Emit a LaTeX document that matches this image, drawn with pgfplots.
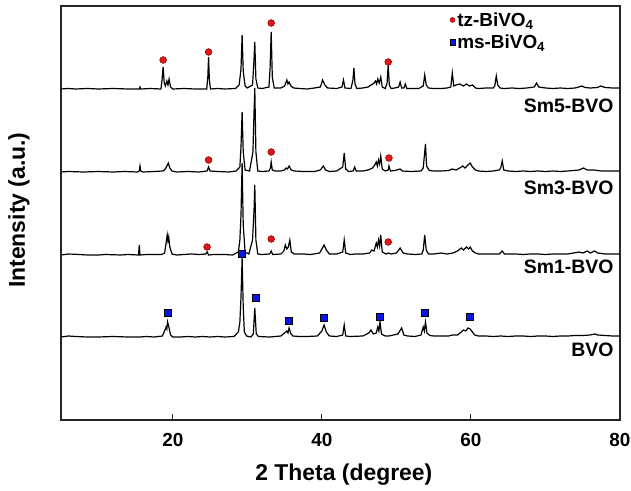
\documentclass[border=0pt]{standalone}
\usepackage{pgfplots}
\usepackage{pgfplotstable}
\pgfplotsset{compat=1.18}
\usepackage{fontspec}
\setmainfont{Liberation Sans}
\definecolor{tzred}{RGB}{230,20,20}
\definecolor{msblue}{RGB}{10,20,230}

\pgfplotstableread{
x y
5 0
6 0.5
7 0
8.5 0.5
10 0
12 0.5
14 0
15.5 0
15.6 2
15.7 0
17 0.5
18.4 0
18.55 8
18.7 22
18.85 6
19.0 3
19.2 8
19.35 4
19.5 10
19.7 2
20 0
21.5 0.5
23 0
24.55 0
24.7 12
24.8 32
24.9 10
25.05 0
26 0.5
27 0
28.4 0.5
28.9 4
29.15 20
29.3 54
29.45 18
29.7 3
30.0 1
30.7 4
30.9 30
31.0 47
31.15 10
31.4 1
32 0.5
32.9 2
33.05 20
33.2 57
33.35 12
33.6 1
34.5 1
35.0 3
35.3 9
35.45 5
35.6 7
35.85 3
36.2 1
37 0.5
38 0
39 1
39.8 2
40.1 9
40.4 4
40.8 1
42 0.5
42.7 2
42.9 9
43.1 1
43.9 0.5
44.15 8
44.3 21
44.45 5
44.7 0.5
45.5 1
46.2 2
46.6 4
47.0 6
47.2 8
47.35 5
47.5 10
47.7 6
47.9 12
48.1 2
48.5 0.5
48.75 6
48.9 24
49.05 4
49.3 0.5
49.8 1
50.3 2
50.5 7
50.7 1
51.0 1
51.2 5
51.4 0.5
52 0.5
53 0.5
53.6 3
53.8 14
54.0 4
54.3 1
55 0.5
56 0.5
56.8 1
57.3 2
57.5 16
57.7 3
58.0 4
58.5 5
59 3
59.4 5
59.8 3
60.2 4
60.6 1
61 0.5
62 1
63 1
63.2 3
63.4 13
63.6 4
63.9 1
64.5 0.5
65.5 1
66.5 0.5
67.5 1
68.5 2
68.8 6
69.1 2
70 1
71 0.5
72 1
73 0.5
74 1
74.9 3
75.3 1.5
76 1
77 1.5
77.4 3
78 1.5
79 1
80 1
}\smfive

\pgfplotstableread{
x y
5 0
6 0.5
8 0
10 0.5
12 0
13.5 0.5
15.3 0
15.5 1
15.6 6
15.7 1
16 0
17.5 0.5
18.7 1
19.0 3
19.2 6
19.4 9
19.6 4
19.9 1
20.5 0
22 0.5
23.5 0
24.6 1
24.8 5
25.0 1
26 0.5
27.5 0
28.5 1
29.0 5
29.15 25
29.3 60
29.45 20
29.7 2
30.3 1
30.75 20
30.9 60
31.0 84
31.15 20
31.4 1
32 0.5
32.9 1
33.1 4
33.2 10
33.35 2
33.7 1
34.5 1
35.0 2
35.2 4
35.4 3
35.6 6
35.9 2
36.3 1
37.5 0.5
39 0.5
39.8 2
40.2 6
40.5 2
41 0.5
42 1
42.8 5
43.0 19
43.2 3
43.6 0.5
44.2 1
44.4 5
44.6 1
45.5 1
46.2 2
46.8 4
47.1 7
47.3 10
47.45 6
47.6 12
47.75 8
47.9 16
48.1 3
48.5 1
48.9 2
49.0 6
49.2 1
49.8 1.5
50.5 3
50.8 1
52 0.5
53.3 1
53.6 4
53.8 20
53.9 28
54.05 6
54.4 1.5
55 1
56 1
57 1.5
57.5 3
58 2
58.5 4
58.9 6
59.2 4
59.6 7
59.9 9
60.2 5
60.6 2
61 1
62 0.5
63 1
63.8 2
64.0 4
64.2 11
64.4 2
65 1
66 0.5
67 1
68 0.5
69 1
70 0.5
71 1
72 0.5
73 1
74.5 2
75.1 4
75.6 2
76.5 2
77.5 1
78.5 1
80 1
}\smthree

\pgfplotstableread{
x y
5 0
6 1
7.5 0.5
8.5 0
10 0
11 0.5
13 0
14 0.5
15.4 0
15.5 10
15.6 0
16.5 0.5
18.5 0.5
18.9 2
19.1 12
19.25 20
19.35 14
19.45 18
19.6 8
19.9 1
20.5 0
21.5 0.5
22.5 1
23.5 0.5
24.4 1
24.6 3
24.8 0
25.5 0.5
27 0.5
28 0
28.8 3
29.0 15
29.15 40
29.3 92
29.45 30
29.7 3
30.2 1
30.7 15
30.9 45
31.0 70
31.15 15
31.4 1
32 0.5
33.0 1
33.2 4
33.4 0.5
34.5 1
34.9 4
35.1 10
35.3 6
35.5 8
35.7 15
35.9 3
36.3 1
37.5 1
38.5 0.5
39.7 2
40.0 6
40.3 10
40.6 5
41 1
42 1
42.8 3
43.0 15
43.2 2
43.8 0.5
44.5 1
45.5 1
46.4 2
46.7 5
47.0 4
47.3 12
47.45 8
47.6 15
47.75 9
47.9 20
48.1 3
48.6 1
48.9 2
49.3 1
50.0 2
50.5 7
50.9 2
51.5 1
52.5 0.5
53.4 1
53.6 5
53.8 20
54.0 5
54.3 1
55 1
56 2
56.8 1
57.6 2
58.2 4
58.7 7
59.0 5
59.4 8
59.7 6
59.9 8
60.2 4
60.6 2
61 1
62 1
63 1
63.8 1
64.2 4
64.5 1
66 1
67 0.5
68 1
69 1
70 0.5
71 1
72 1
73 1
74.5 3
75 2
75.6 4
76 2
76.6 4
77 2
78 1
79 1
80 1
}\smone

\pgfplotstableread{
x y
5 0
6 1
7 0.5
8.5 0
10 0
12 0.5
14 0
15.5 0
16.5 0.5
17.5 0
18.6 1
18.9 6
19.1 10
19.2 8
19.3 15
19.5 9
19.7 2
20 0
21 0
22 0.5
23 0
24 0.5
25 0
26 0.5
27 0
28.2 0.5
28.8 5
29.0 15
29.15 40
29.3 79
29.45 30
29.6 5
29.9 1
30.5 0
30.8 3
31.0 29
31.2 3
31.5 0.5
33 0
34.5 1
35.0 4
35.3 6
35.45 4
35.6 9
35.8 4
36.1 1
37 0.5
38 0.5
39.4 1
40.0 6
40.3 12
40.6 5
41 1
42 0.5
42.8 2
43.0 12
43.2 1
43.8 0.5
45.5 1
46.3 4
46.6 7
46.9 3
47.3 4
47.5 10
47.65 6
47.8 15
48.0 3
48.5 1
49 1
50.2 3
50.7 9
51.0 2
51.5 1
52.5 0.5
53.3 2
53.6 10
53.75 6
53.9 15
54.1 4
54.5 1.5
55 1
56 1
57 1
57.5 2
58.2 2
58.7 5
59.0 7
59.3 6
59.6 9
59.9 8
60.2 5
60.5 2
61 1
62 1
63 0.5
64 1
65 0.5
66 1
67 1
68 0.5
69 1
70 1
71 0.5
72 1
73 1
74 1.5
75 1.5
76 2
76.6 3
77 2
78 1.5
79 1
80 1
}\bvo

\pgfplotstableread{
x y
18.7 29
24.8 37
33.2 66
48.9 27
}\tzfive
\pgfplotstableread{
x y
24.8 12
33.2 20
49.0 14
}\tzthree
\pgfplotstableread{
x y
24.6 8
33.2 16
48.9 13
}\tzone
\pgfplotstableread{
x y
19.3 24
29.3 83
31.1 39
35.6 16
40.3 19
47.8 20
53.8 24
59.8 20
}\msbvo

\begin{document}
\begin{tikzpicture}
\useasboundingbox (-61bp,-71bp) rectangle (570bp,420bp);
\begin{axis}[
  at={(0,0)}, anchor=south west,
  scale only axis, width=559bp, height=414bp,
  xmin=5, xmax=80, ymin=0, ymax=414,
  xtick={20,40,60,80}, ytick=\empty,
  xtick pos=bottom, tick align=inside,
  major tick length=6bp,
  axis line style={line width=1.1bp, black!85},
  every tick/.style={line width=1.1bp, black!85},
  /pgf/number format/assume math mode=true,
  xticklabel style={font=\bfseries\fontsize{19}{23}\selectfont, yshift=-10bp},
  clip=false,
  legend style={at={(rel axis cs:0.695,0.99)}, anchor=north west, draw=none, fill=none,
     font=\bfseries\fontsize{19}{22}\selectfont, inner sep=0pt, row sep=3bp,
     cells={anchor=west}},
  legend image code/.code={\draw[#1] plot coordinates {(-1.5bp,0bp)};},
]
\addlegendimage{only marks, mark=*, mark size=2.5bp, mark options={fill=tzred, draw=red!50!black, line width=0.4bp}}
\addlegendentry{tz-BiVO\textsubscript{4}}
\addlegendimage{only marks, mark=square*, mark size=2.8bp, mark options={fill=msblue, draw=black, line width=0.4bp}}
\addlegendentry{ms-BiVO\textsubscript{4}}

\addplot[black, line width=1.2bp, forget plot] table[x=x, y expr=\thisrow{y}+331] {\smfive};
\addplot[black, line width=1.2bp, forget plot] table[x=x, y expr=\thisrow{y}+248] {\smthree};
\addplot[black, line width=1.2bp, forget plot] table[x=x, y expr=\thisrow{y}+165] {\smone};
\addplot[black, line width=1.2bp, forget plot] table[x=x, y expr=\thisrow{y}+83] {\bvo};

\addplot[only marks, mark=*, mark size=3.4bp, mark options={fill=tzred, draw=red!50!black, line width=0.5bp}, forget plot] table[x=x, y expr=\thisrow{y}+331] {\tzfive};
\addplot[only marks, mark=*, mark size=3.4bp, mark options={fill=tzred, draw=red!50!black, line width=0.5bp}, forget plot] table[x=x, y expr=\thisrow{y}+248] {\tzthree};
\addplot[only marks, mark=*, mark size=3.4bp, mark options={fill=tzred, draw=red!50!black, line width=0.5bp}, forget plot] table[x=x, y expr=\thisrow{y}+165] {\tzone};
\addplot[only marks, mark=square*, mark size=3.6bp, mark options={fill=msblue, draw=black, line width=0.6bp}, forget plot] table[x=x, y expr=\thisrow{y}+83] {\msbvo};

\node[anchor=east, font=\bfseries\fontsize{19.5}{23}\selectfont] at (axis cs:79.6,314) {Sm5-BVO};
\node[anchor=east, font=\bfseries\fontsize{19.5}{23}\selectfont] at (axis cs:79.6,232) {Sm3-BVO};
\node[anchor=east, font=\bfseries\fontsize{19.5}{23}\selectfont] at (axis cs:79.6,153) {Sm1-BVO};
\node[anchor=east, font=\bfseries\fontsize{19.5}{23}\selectfont] at (axis cs:79.6,70) {BVO};

\node[anchor=base, font=\bfseries\fontsize{23}{27}\selectfont] at (rel axis cs:0.506,0) [yshift=-60bp] {2 Theta (degree)};
\node[xshift=-36bp, rotate=90, anchor=base, font=\bfseries\fontsize{23}{27}\selectfont] at (rel axis cs:0,0.507) {Intensity (a.u.)};
\end{axis}
\end{tikzpicture}
\end{document}
